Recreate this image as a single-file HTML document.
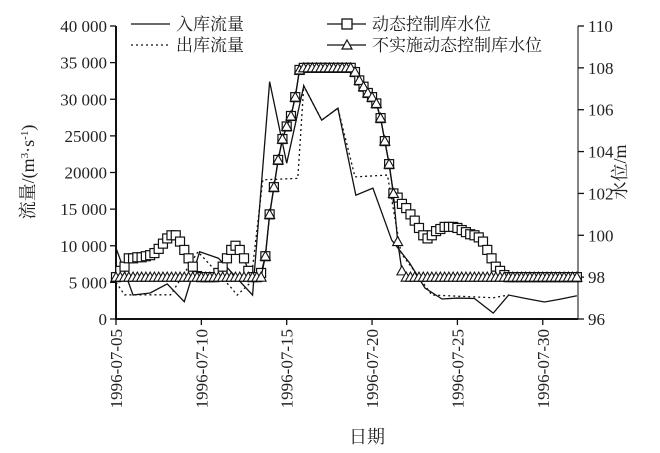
<!DOCTYPE html>
<html><head><meta charset="utf-8">
<style>
html,body{margin:0;padding:0;background:#fff;}
svg{display:block;font-family:"Liberation Serif","Noto Serif CJK SC",serif;}
</style></head>
<body>
<svg id="chart" width="660" height="453" viewBox="0 0 660 453" xmlns="http://www.w3.org/2000/svg">
<g id="axes"></g>
<g id="series"></g>
<g id="legend">
  <line x1="131" y1="24" x2="170" y2="24" stroke="#111" stroke-width="1.3"/>
  <text x="176" y="30" font-size="17" fill="#222">入库流量</text>
  <line x1="131" y1="45" x2="170" y2="45" stroke="#111" stroke-width="1.3" stroke-dasharray="2,3"/>
  <text x="176" y="51" font-size="17" fill="#222">出库流量</text>
  <line x1="327" y1="24" x2="366" y2="24" stroke="#111" stroke-width="1.3"/>
  <rect x="342" y="19" width="10" height="10" fill="#fff" stroke="#111" stroke-width="1.3"/>
  <text x="372" y="30" font-size="17" fill="#222">动态控制库水位</text>
  <line x1="327" y1="45" x2="366" y2="45" stroke="#111" stroke-width="1.3"/>
  <polygon points="347,40 352,49 342,49" fill="#fff" stroke="#111" stroke-width="1.2"/>
  <text x="372" y="51" font-size="17" fill="#222">不实施动态控制库水位</text>
</g>
</svg>
<script>
// ---- data ----
const xTickLabels = ["1996-07-05","1996-07-10","1996-07-15","1996-07-20","1996-07-25","1996-07-30"];
const xTickDays = [0,5,10,15,20,25];
const yLeftTicks = [0,5000,10000,15000,20000,25000,30000,35000,40000];
const yLeftLabels = ["0","5 000","10 000","15 000","20000","25000","30 000","35 000","40 000"];
const yRightTicks = [96,98,100,102,104,106,108,110];
const inflowDays = [0,1,2,3,4,4.9,6,8,9,10,11,12.05,13,14.05,15.05,16.15,17.2,18.1,19.1,20,21,22.1,23,24,25.1,26,27];
const inflowValues = [9700,3270,3550,4780,2360,9180,8300,3270,32400,21270,31830,27150,28780,16900,17870,10780,7640,4230,2730,2860,2800,800,3270,2800,2320,2700,3180];
const outflowDays = [0,0.5,3.2,4.8,6.7,7.1,7.9,8.6,10.65,11,12.05,13,14,15.9,16.7,18,18.5,22.1,23];
const outflowValues = [5000,3300,3300,9180,4400,3270,5000,19000,19200,31830,27150,28780,19400,19650,9000,4900,3270,2900,3270];
const levelStep = 0.25;
const dynamicLevel = [98,98.3,98.5,98.9,98.9,98.95,98.95,99.0,99.05,99.15,99.35,99.6,99.85,100.0,100.0,99.7,99.3,98.9,98.5,98.05,98,98,98,98,98.2,98.5,98.9,99.3,99.5,99.3,98.9,98.3,98,98,98.2,99.0,101.0,102.3,103.6,104.6,105.2,105.7,106.6,107.9,108,108,108,108,108,108,108,108,108,108,108,108,107.8,107.4,107.1,106.8,106.6,106.3,105.6,104.5,103.4,102.0,101.8,101.5,101.3,101.0,100.7,100.35,100.0,99.85,100.0,100.2,100.3,100.4,100.4,100.4,100.35,100.25,100.15,100.05,100.0,99.9,99.7,99.3,98.9,98.5,98.3,98.1,98,98,98,98,98,98,98,98,98,98,98,98,98,98,98,98,98];
const staticLevel = [98,98,98,98,98,98,98,98,98,98,98,98,98,98,98,98,98,98,98,98,98,98,98,98,98,98,98,98,98,98,98,98,98,98,98,99.0,101.0,102.3,103.6,104.6,105.2,105.7,106.6,107.9,108,108,108,108,108,108,108,108,108,108,108,108,107.8,107.4,107.1,106.8,106.6,106.3,105.6,104.5,103.4,102.0,99.7,98.3,98,98,98,98,98,98,98,98,98,98,98,98,98,98,98,98,98,98,98,98,98,98,98,98,98,98,98,98,98,98,98,98,98,98,98,98,98,98,98,98,98];

// ---- scales ----
const X0=116, X1=578, Y0=319, Y1=26;
const xS = d => X0 + d*17.07;
const yL = v => Y0 - (v/40000)*(Y0-Y1);
const yR = v => Y0 - ((v-96)/14)*(Y0-Y1);
const NS="http://www.w3.org/2000/svg";
function mk(tag, attrs, parent){const e=document.createElementNS(NS,tag);for(const k in attrs)e.setAttribute(k,attrs[k]);parent.appendChild(e);return e;}
const axes=document.getElementById('axes'), series=document.getElementById('series');

// axes lines
let a=mk('line',{x1:X0,y1:Y1,x2:X0,y2:Y0+1,stroke:'#111','stroke-width':2},axes);


a=mk('line',{x1:X0-1,y1:Y0,x2:X1,y2:Y0,stroke:'#111','stroke-width':2},axes);


a=mk('line',{x1:X1,y1:Y1,x2:X1,y2:Y0,stroke:'#333','stroke-width':1.2},axes);



yLeftTicks.forEach((v,i)=>{
  mk('line',{x1:X0-6,y1:yL(v),x2:X0,y2:yL(v),stroke:'#111','stroke-width':1.3},axes);
  const t=mk('text',{x:X0-9,y:yL(v)+6,'text-anchor':'end','font-size':17,fill:'#222'},axes);
  t.textContent=yLeftLabels[i];
  
  
});
yRightTicks.forEach(v=>{
  mk('line',{x1:X1,y1:yR(v),x2:X1+6,y2:yR(v),stroke:'#111','stroke-width':1.3},axes);
  const t=mk('text',{x:X1+10,y:yR(v)+6,'font-size':17,fill:'#222'},axes);
  t.textContent=String(v);
  
  
});
xTickDays.forEach((d,i)=>{
  const x=xS(d);
  mk('line',{x1:x,y1:Y0,x2:x,y2:Y0+6,stroke:'#111','stroke-width':1.3},axes);
  const t=mk('text',{x:0,y:0,'text-anchor':'end','font-size':17,fill:'#222',transform:`translate(${x+6},${Y0+10}) rotate(-90)`},axes);
  t.textContent=xTickLabels[i];
  
  
});
let t=mk('text',{x:0,y:0,'text-anchor':'middle','font-size':18,fill:'#222',transform:'translate(34,172) rotate(-90)'},axes);
t.innerHTML='流量/(m<tspan font-size="11" dy="-6">3</tspan><tspan dy="6">·s</tspan><tspan font-size="11" dy="-6">-1</tspan><tspan dy="6">)</tspan>';


t=mk('text',{x:0,y:0,'text-anchor':'middle','font-size':18,fill:'#222',transform:'translate(626,172) rotate(-90)'},axes);
t.textContent='水位/m';


t=mk('text',{x:367,y:443,'text-anchor':'middle','font-size':18,fill:'#222'},axes);
t.textContent='日期';



// flows
let p=mk('polyline',{points:inflowDays.map((d,i)=>xS(d)+','+yL(inflowValues[i])).join(' '),fill:'none',stroke:'#111','stroke-width':1.3},series);


p=mk('polyline',{points:outflowDays.map((d,i)=>xS(d)+','+yL(outflowValues[i])).join(' '),fill:'none',stroke:'#111','stroke-width':1.3,'stroke-dasharray':'2,3'},series);



// dynamic level (squares)
p=mk('polyline',{points:dynamicLevel.map((v,i)=>xS(i*levelStep)+','+yR(v)).join(' '),fill:'none',stroke:'#111','stroke-width':1.3},series);


dynamicLevel.forEach((v,i)=>{
  const r=mk('rect',{x:xS(i*levelStep)-4.5,y:yR(v)-4.5,width:9,height:9,fill:'#fff',stroke:'#111','stroke-width':1.2},series);
  
  
});
// static level (triangles)
p=mk('polyline',{points:staticLevel.map((v,i)=>xS(i*levelStep)+','+yR(v)).join(' '),fill:'none',stroke:'#111','stroke-width':1.3},series);


staticLevel.forEach((v,i)=>{
  const x=xS(i*levelStep), y=yR(v);
  const g=mk('polygon',{points:`${x},${y-5} ${x+5},${y+4} ${x-5},${y+4}`,fill:'#fff',stroke:'#111','stroke-width':1.1},series);
  
  
});
</script>
</body></html>
